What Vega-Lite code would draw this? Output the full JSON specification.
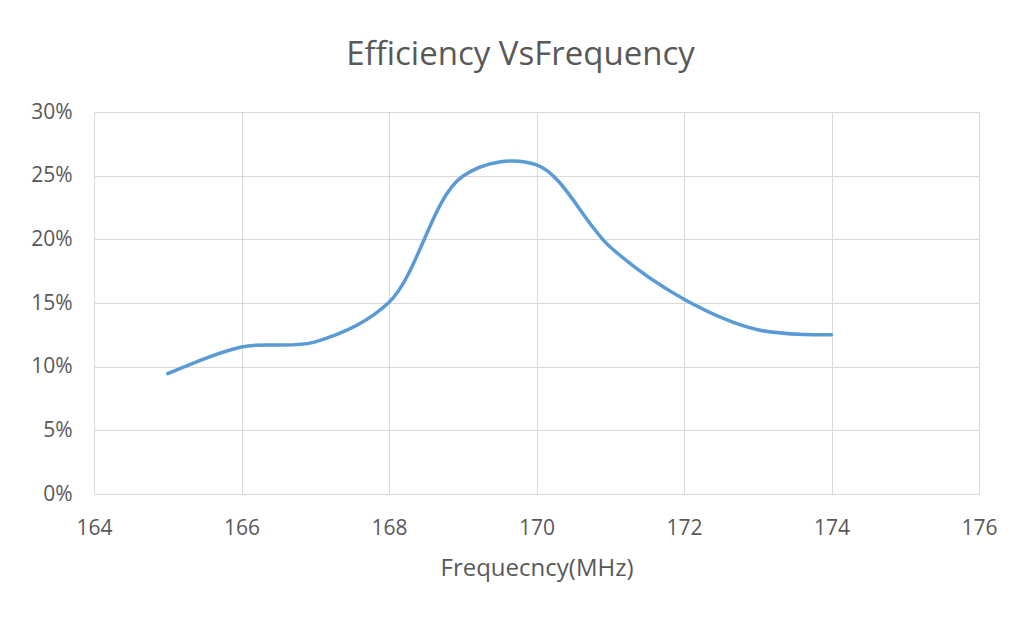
{
  "$schema": "https://vega.github.io/schema/vega-lite/v6.json",
  "width": 885,
  "height": 382,
  "autosize": {"type": "none"},
  "padding": {"left": 94, "top": 112, "right": 39, "bottom": 125},
  "background": "white",
  "title": {
    "text": "Efficiency VsFrequency",
    "font": "Open Sans",
    "fontSize": 33,
    "fontWeight": "normal",
    "color": "#595959",
    "anchor": "middle",
    "offset": 29,
    "dx": -16,
    "frame": "group"
  },
  "config": {
    "view": {"stroke": null},
    "axis": {
      "labelFont": "Open Sans",
      "titleFont": "Open Sans",
      "labelColor": "#595959",
      "titleColor": "#595959",
      "gridColor": "#d9d9d9",
      "gridWidth": 1,
      "ticks": false,
      "domain": false
    }
  },
  "data": {
    "values": [
      {"freq": 165, "eff": 0.0945},
      {"freq": 166, "eff": 0.1155},
      {"freq": 167, "eff": 0.1195},
      {"freq": 168, "eff": 0.1505},
      {"freq": 169, "eff": 0.2495},
      {"freq": 170, "eff": 0.2585},
      {"freq": 171, "eff": 0.194},
      {"freq": 172, "eff": 0.153},
      {"freq": 173, "eff": 0.129},
      {"freq": 174, "eff": 0.125}
    ]
  },
  "mark": {"type": "line", "interpolate": "catmull-rom", "color": "#5B9BD5", "strokeWidth": 3.5, "strokeCap": "round"},
  "encoding": {
    "x": {
      "field": "freq",
      "type": "quantitative",
      "scale": {"domain": [164, 176], "nice": false, "zero": false},
      "axis": {
        "values": [164, 166, 168, 170, 172, 174, 176],
        "title": "Frequecncy(MHz)",
        "titleFontSize": 24,
        "titleFontWeight": "normal",
        "titlePadding": 18,
        "labelFontSize": 21,
        "labelPadding": 23,
        "labelFlush": false
      }
    },
    "y": {
      "field": "eff",
      "type": "quantitative",
      "scale": {"domain": [0, 0.3], "nice": false},
      "axis": {
        "values": [0, 0.05, 0.1, 0.15, 0.2, 0.25, 0.3],
        "format": ".0%",
        "title": null,
        "labelFontSize": 21,
        "labelPadding": 22
      }
    }
  }
}
